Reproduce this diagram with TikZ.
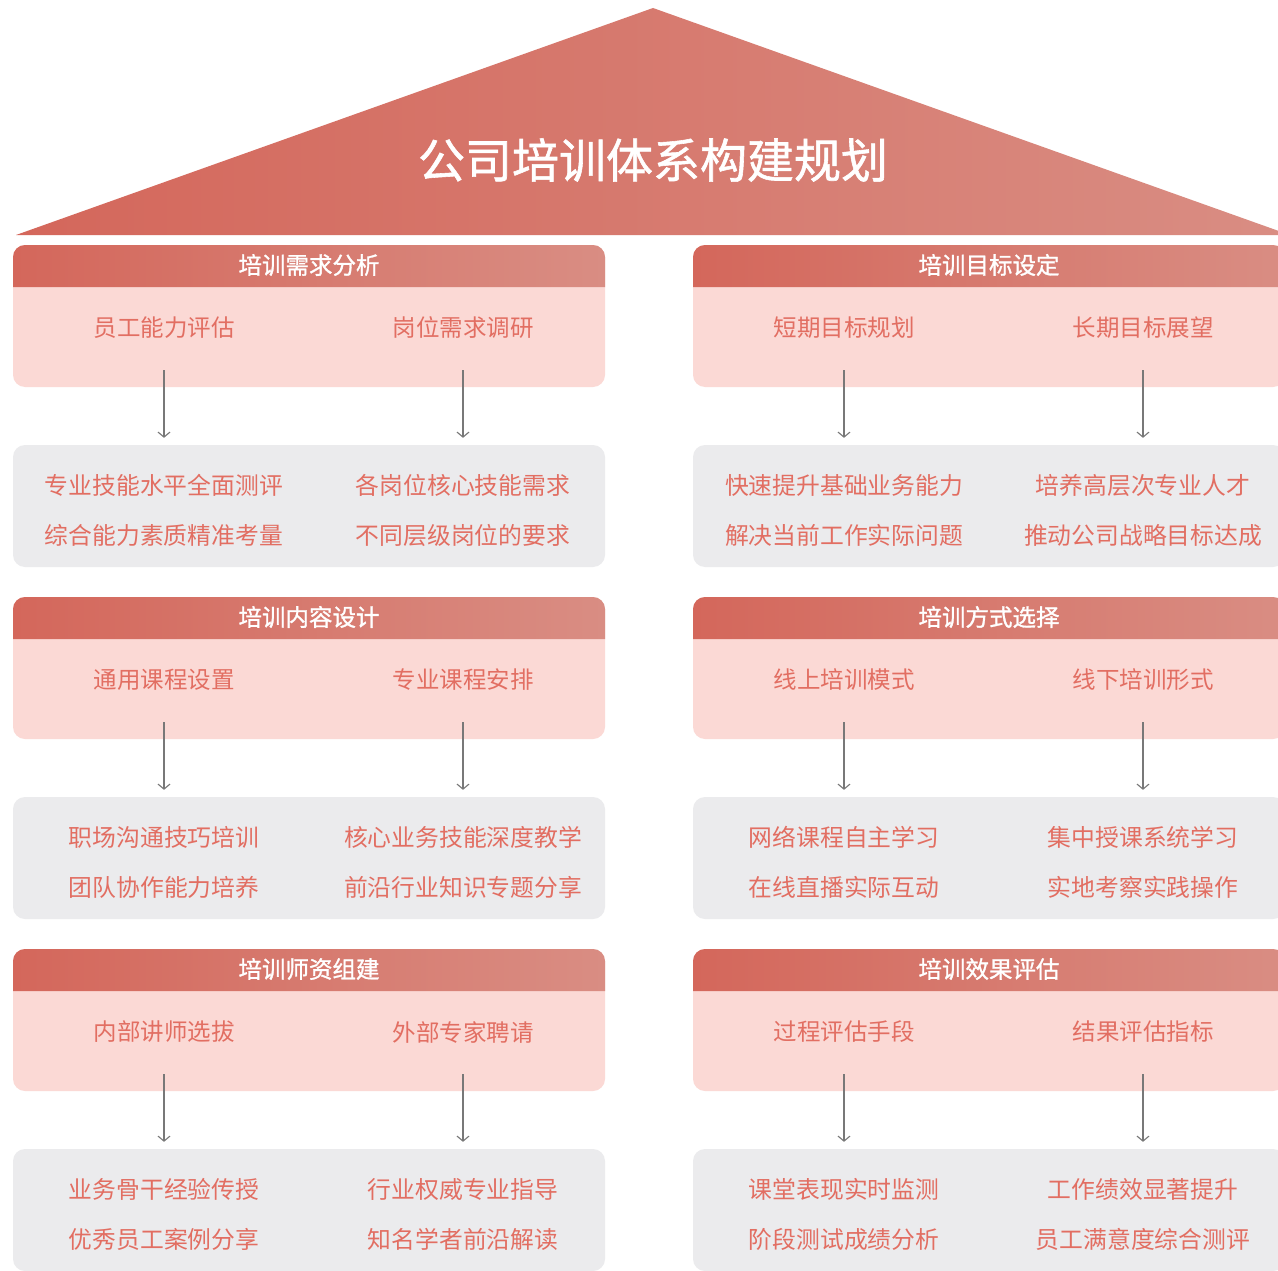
\documentclass[tikz,border=0pt]{standalone}
\usepackage{fontspec}
\newfontfamily\cjk{Noto Sans CJK SC}
\newfontfamily\cjkm[FakeBold=1.2]{Noto Sans CJK SC}
\usetikzlibrary{calc,arrows.meta}
\definecolor{hdL}{RGB}{212,103,91}
\definecolor{hdR}{RGB}{217,141,131}
\definecolor{pinkbg}{RGB}{251,217,213}
\definecolor{graybg}{RGB}{235,235,237}
\definecolor{txt}{RGB}{226,110,98}
\definecolor{arrgray}{RGB}{120,120,120}
\tikzset{
  pinkbox/.style={draw=none,fill=pinkbg,rounded corners=12pt,minimum width=592pt,minimum height=142pt,inner sep=0pt},
  graybox/.style={draw=none,fill=graybg,rounded corners=12pt,minimum width=592pt,minimum height=122pt,inner sep=0pt},
  hdtext/.style={text=white,font=\cjkm\fontsize{23.5}{26}\selectfont,inner sep=0pt},
  item/.style={text=txt,font=\cjk\fontsize{23.5}{26}\selectfont,inner sep=0pt},
  gitem/.style={text=txt,font=\cjk\fontsize{23.8}{50}\selectfont,inner sep=0pt,align=center},
  arr/.style={draw=arrgray,line width=1.3pt,-{Straight Barb[length=5pt,width=12pt,line width=1.1pt]}},
}
\newcommand\panel[8]{%
  \node[pinkbox] (#3P) at ({#1+296},{#2+71}) {};
  \shade[left color=hdL,right color=hdR]
    (#1,{#2+42}) [rounded corners=12pt] -- (#1,#2) -- ({#1+592},#2) [sharp corners] -- ({#1+592},{#2+42}) -- cycle;
  \node[hdtext] (#3H) at ({#1+296},{#2+20}) {#4};
  \node[item] (#3a) at ({#1+151},{#2+83}) {#5};
  \node[item] (#3b) at ({#1+450},{#2+83}) {#6};
  \node[graybox] (#3G) at ({#1+296},{#2+261}) {};
  \node[gitem] (#3c) at ({#1+151},{#2+265}) {#7};
  \node[gitem] (#3d) at ({#1+450},{#2+265}) {#8};
  \draw[arr] ([yshift=17pt]#3P.south -| #3a.center) -- ([yshift=7pt]#3G.north -| #3a.center);
  \draw[arr] ([yshift=17pt]#3P.south -| #3b.center) -- ([yshift=7pt]#3G.north -| #3b.center);
}
\begin{document}
\begin{tikzpicture}[x=1pt,y=-1pt]
\useasboundingbox (0,0) rectangle (1278,1271);
\fill[white] (0,0) rectangle (1278,1271);
\shade[left color=hdL,right color=hdR] (16,235) -- (653,8) -- (1290,235) -- cycle;
\node[text=white,font=\cjkm\fontsize{47}{50}\selectfont,inner sep=0pt] (title) at (653,160) {公司培训体系构建规划};
\panel{13}{245}{A}{培训需求分析}{员工能力评估}{岗位需求调研}{专业技能水平全面测评\\综合能力素质精准考量}{各岗位核心技能需求\\不同层级岗位的要求}
\panel{693}{245}{B}{培训目标设定}{短期目标规划}{长期目标展望}{快速提升基础业务能力\\解决当前工作实际问题}{培养高层次专业人才\\推动公司战略目标达成}
\panel{13}{597}{C}{培训内容设计}{通用课程设置}{专业课程安排}{职场沟通技巧培训\\团队协作能力培养}{核心业务技能深度教学\\前沿行业知识专题分享}
\panel{693}{597}{D}{培训方式选择}{线上培训模式}{线下培训形式}{网络课程自主学习\\在线直播实际互动}{集中授课系统学习\\实地考察实践操作}
\panel{13}{949}{E}{培训师资组建}{内部讲师选拔}{外部专家聘请}{业务骨干经验传授\\优秀员工案例分享}{行业权威专业指导\\知名学者前沿解读}
\panel{693}{949}{F}{培训效果评估}{过程评估手段}{结果评估指标}{课堂表现实时监测\\阶段测试成绩分析}{工作绩效显著提升\\员工满意度综合测评}
\end{tikzpicture}
\end{document}
